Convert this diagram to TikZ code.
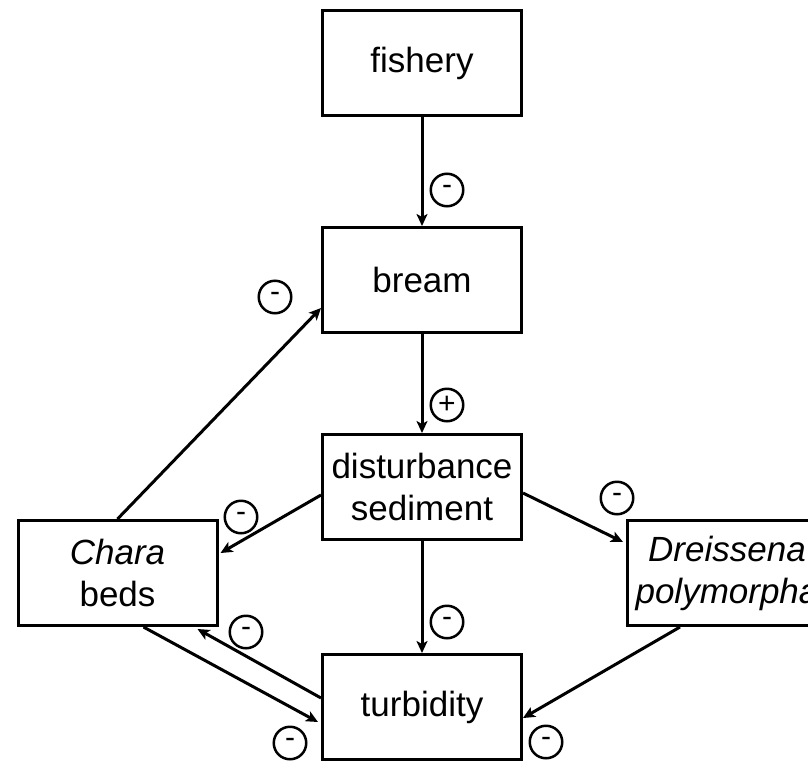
\documentclass[tikz,border=0pt]{standalone}
\usepackage{fontspec}
\setmainfont{Liberation Sans}
\usetikzlibrary{arrows.meta,calc}
\begin{document}
\begin{tikzpicture}[x=1pt,y=-1pt,
  box/.style={draw,line width=3pt,minimum width=199pt,minimum height=105pt,inner sep=0pt,align=center,font=\fontsize{35}{42}\selectfont},
  sgn/.style={draw,circle,line width=2.5pt,minimum size=32.5pt,inner sep=0pt,font=\fontsize{30}{30}\selectfont},
  arr/.style={line width=3pt,-{Stealth[length=12pt,width=11pt,inset=3pt]}}]
\clip (0,0) rectangle (808,763);
\fill[white] (0,0) rectangle (808,763);
\node[box] (fishery) at (422,63) {fishery};
\node[box] (bream) at (422,280) {bream};
\node[box] (dist) at (422,487) {disturbance\\sediment};
\node[box] (chara) at (117.5,573) {\textit{Chara}\\beds};
\node[box] (dreis) at (727,573) {\textit{Dreissena}\\\textit{polymorpha}};
\node[box] (turb) at (422,707) {turbidity};
\node[sgn] (s1) at (447,190) {-};
\node[sgn] (s2) at (447,405) {+};
\node[sgn] (s3) at (275,297) {-};
\node[sgn] (s4) at (241,517) {-};
\node[sgn] (s5) at (617,498) {-};
\node[sgn] (s6) at (447,622) {-};
\node[sgn] (s7) at (246,632) {-};
\node[sgn] (s8) at (290,743) {-};
\node[sgn] (s9) at (546,742) {-};
\draw[arr] (fishery) -- (bream);
\draw[arr] (bream) -- (dist);
\draw[arr] (chara.north) -- ($(bream.west)+(0,28)$);
\draw[arr] ($(dist.west)+(0,8)$) -- ($(chara.east)+(2,-20)$);
\draw[arr] ($(dist.east)+(0,6)$) -- ($(dreis.west)+(-3,-31)$);
\draw[arr] (dist) -- (turb);
\draw[arr] ($(turb.west)+(0,-9)$) -- ($(chara.south)+(80,2)$);
\draw[arr] ($(chara.south)+(26,0)$) -- ($(turb.west)+(-3,15)$);
\draw[arr] ($(dreis.south)+(-47,0)$) -- ($(turb.east)+(0,11)$);
\end{tikzpicture}
\end{document}
